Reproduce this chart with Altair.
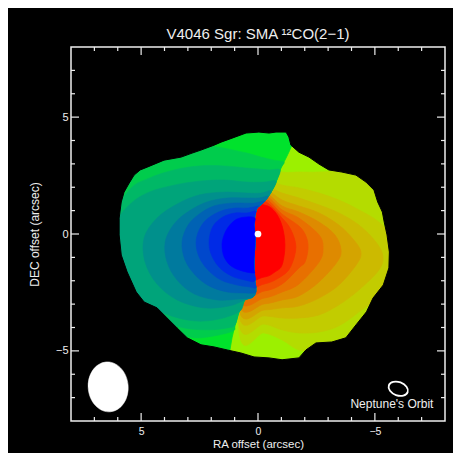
import altair as alt
import pandas as pd

# ---------------- data (arcsec offsets) ----------------
TICK_LABELS = [5, 0, -5]
MINOR_TICKS = [7, 6, 4, 3, 2, 1, -1, -2, -3, -4, -6, -7]

# outer edge of the emission (clockwise on screen)
DISK_X = [5.51, 5.30, 5.04, 4.74, 4.02, 3.29, 2.82, 2.44, 1.88, 1.58, 1.11, 0.51, -0.04, -0.47, -0.77,
          -1.20, -1.32, -1.41, -1.75, -2.18, -2.61, -3.03, -3.59, -4.19, -4.62, -4.96, -5.12, -5.32,
          -5.40, -5.52, -5.62, -5.60, -5.36, -4.92, -4.64, -4.19, -3.76, -3.16, -2.48, -2.05, -1.75,
          -1.03, -0.47, 0.17, 0.73, 1.32, 1.88, 2.44, 3.03, 3.46, 3.89, 4.32, 4.87, 5.21, 5.60, 5.85,
          5.94, 5.94, 5.85, 5.73]
DISK_Y = [2.18, 2.52, 2.74, 2.86, 3.16, 3.29, 3.46, 3.59, 3.80, 3.93, 4.10, 4.32, 4.36, 4.32, 4.36,
          4.36, 4.15, 3.80, 3.50, 3.29, 2.99, 2.74, 2.65, 2.52, 2.22, 1.88, 1.37, 0.94,
          0.51, -0.04, -0.77, -1.45, -2.18, -2.74, -3.33, -3.89, -4.44, -4.62, -4.66, -4.96, -5.30,
          -5.38, -5.30, -5.26, -5.09, -4.96, -4.83, -4.74, -4.44, -4.02, -3.59, -3.16, -2.91, -2.48, -1.62, -0.90,
          -0.04, 0.68, 1.37, 1.79]

# boundary between blue-shifted and red-shifted halves (top -> bottom)
SPLIT_X = [-1.58, -1.45, -1.32, -1.20, -0.98, -0.77, -0.56, -0.26, 0.04, 0.13, 0.17, 0.13,
           0.13, 0.17, 0.17, 0.13, 0.09, 0.21, 0.56, 0.81, 0.98, 1.11, 1.20, 1.28]
SPLIT_Y = [4.66, 3.80, 3.50, 3.25, 2.82, 2.22, 1.79, 1.37, 1.11, 0.81, 0.38, 0.00,
           -0.47, -1.03, -1.54, -2.05, -2.39, -2.69, -2.82, -3.33, -3.89, -4.44, -4.96, -5.60]

# red-shifted velocity lobes, outer -> inner
R1_X = [0.81, -0.26, -1.03, -1.75, -2.61, -3.46, -4.32, -6.03, -6.88, -6.03, -5.17, -4.32, -3.46, -2.61, -1.75, -1.03, -0.26, 0.81]
R1_Y = [3.16, 2.95, 2.65, 2.65, 2.65, 2.74, 3.16, 3.16, -0.26, -4.10, -4.74, -4.74, -4.96, -5.04, -4.96, -4.53, -4.23, -4.23]
R2_X = [0.81, -0.26, -1.03, -1.75, -2.61, -3.46, -4.32, -5.17, -5.81, -5.85, -5.17, -4.32, -3.46, -2.61, -1.75, -1.03, -0.26, 0.81]
R2_Y = [2.31, 2.31, 2.09, 1.97, 1.75, 1.45, 1.03, 0.51, -0.26, -1.11, -2.61, -3.33, -3.93, -4.19, -4.23, -4.10, -3.85, -3.85]
R3_X = [0.81, -0.26, -1.03, -1.75, -2.61, -3.46, -4.32, -5.04, -5.34, -5.17, -4.32, -3.46, -2.61, -1.75, -1.03, -0.26, 0.81]
R3_Y = [2.05, 2.05, 1.75, 1.54, 1.24, 0.90, 0.38, -0.34, -0.94, -1.54, -2.39, -3.03, -3.46, -3.59, -3.59, -3.50, -3.50]
R4_X = [0.81, -0.26, -1.03, -1.75, -2.61, -3.46, -4.10, -4.40, -4.23, -3.46, -2.61, -1.75, -1.03, -0.26, 0.81]
R4_Y = [1.92, 1.92, 1.45, 1.20, 0.90, 0.38, -0.26, -0.77, -1.28, -2.18, -2.74, -3.08, -3.16, -3.25, -3.25]
R5_X = [0.81, -0.26, -1.03, -1.75, -2.61, -3.29, -3.55, -3.38, -2.61, -1.75, -1.03, -0.26, 0.81]
R5_Y = [1.79, 1.79, 1.20, 0.94, 0.51, -0.04, -0.68, -1.20, -2.05, -2.65, -2.82, -2.99, -2.99]
R6_X = [0.81, -0.26, -1.03, -1.75, -2.61, -2.78, -2.61, -1.75, -1.03, -0.26, 0.81]
R6_Y = [1.67, 1.67, 1.03, 0.68, -0.04, -0.60, -1.20, -2.14, -2.48, -2.74, -2.74]
R7_X = [0.81, -0.26, -1.03, -1.75, -2.05, -2.14, -2.01, -1.75, -1.03, -0.26, 0.81]
R7_Y = [1.54, 1.54, 0.85, 0.34, -0.09, -0.60, -1.20, -1.45, -2.14, -2.44, -2.44]
R8_X = [0.81, -0.26, -1.03, -1.41, -1.62, -1.41, -1.03, -0.26, 0.81]
R8_Y = [1.41, 1.41, 0.68, 0.17, -0.56, -1.37, -1.79, -2.14, -2.14]
R9_X = [0.81, -0.26, -0.73, -1.03, -1.15, -1.03, -0.73, -0.26, 0.81]
R9_Y = [1.24, 1.24, 0.94, 0.34, -0.47, -1.32, -1.62, -1.84, -1.84]

# blue-shifted velocity lobes (outer arc), outer -> inner; closed along the split line
L1_X = [-1.11, -0.68, -0.13, 0.47, 1.24, 2.09, 2.95, 4.02, 5.09, 6.37, 6.79, 6.37, 5.09, 3.80, 2.74, 1.88, 1.07]
L1_Y = [3.08, 3.16, 3.29, 3.46, 3.63, 3.76, 3.68, 3.50, 3.16, 1.88, -0.26, -2.39, -3.68, -4.19, -4.44, -4.36, -4.15]
L2_X = [-0.94, -0.47, -0.04, 0.47, 1.45, 2.52, 3.59, 4.66, 5.51, 6.37, 6.45, 5.30, 4.23, 3.16, 2.09, 1.32, 0.98]
L2_Y = [2.74, 2.74, 2.78, 2.82, 2.91, 2.91, 2.74, 2.39, 1.88, 0.38, -1.75, -3.03, -3.68, -4.02, -4.10, -4.02, -3.89]
L3_X = [-0.77, -0.26, 0.47, 1.45, 2.52, 3.59, 4.66, 5.51, 6.29, 6.37, 5.43, 4.32, 3.03, 1.88, 0.81]
L3_Y = [2.26, 2.22, 2.22, 2.31, 2.26, 2.09, 1.79, 1.24, 0.17, -1.20, -2.48, -3.25, -3.68, -3.68, -3.33]
L4_X = [-0.56, -0.13, 0.47, 1.45, 2.52, 3.46, 4.32, 4.87, 4.83, 4.32, 3.46, 2.31, 1.24, 0.56]
L4_Y = [1.84, 1.75, 1.75, 1.79, 1.67, 1.28, 0.68, -0.17, -1.20, -2.14, -2.82, -3.16, -3.08, -2.82]
L5_X = [-0.43, -0.04, 0.47, 1.32, 2.18, 2.95, 3.59, 3.97, 3.89, 3.46, 2.74, 1.75, 0.81, 0.21]
L5_Y = [1.62, 1.54, 1.54, 1.54, 1.37, 0.98, 0.43, -0.34, -1.20, -1.97, -2.56, -2.82, -2.78, -2.69]
L6_X = [-0.30, 0.17, 0.47, 1.15, 1.88, 2.52, 2.99, 3.25, 3.12, 2.69, 2.09, 1.32, 0.60, 0.13]
L6_Y = [1.41, 1.32, 1.32, 1.32, 1.20, 0.85, 0.38, -0.34, -1.11, -1.75, -2.22, -2.48, -2.52, -2.52]
L7_X = [-0.04, 0.47, 0.98, 1.58, 2.18, 2.52, 2.65, 2.52, 2.14, 1.58, 0.90, 0.38, 0.09]
L7_Y = [1.20, 1.11, 1.11, 0.98, 0.64, 0.17, -0.38, -0.98, -1.54, -1.97, -2.18, -2.26, -2.31]
L8_X = [0.09, 0.47, 0.98, 1.50, 1.92, 2.09, 2.01, 1.67, 1.15, 0.56, 0.13]
L8_Y = [0.98, 0.90, 0.90, 0.73, 0.34, -0.26, -0.85, -1.41, -1.79, -1.97, -2.01]
L9_X = [0.13, 0.47, 0.90, 1.24, 1.45, 1.54, 1.45, 1.15, 0.68, 0.17]
L9_Y = [0.68, 0.73, 0.64, 0.34, -0.04, -0.47, -0.98, -1.37, -1.58, -1.67]
# split-line index range (top, bottom) that closes each blue lobe
L_SPLIT = [(4, 20), (5, 19), (6, 18), (7, 17), (7, 16), (8, 16), (8, 15), (9, 14), (10, 14)]

STAR_X, STAR_Y = [0.0], [0.0]
BEAM_X, BEAM_Y = [6.41], [-6.54]
ORBIT_X, ORBIT_Y = [-6.0], [-6.62]
NOTE_X, NOTE_Y, NOTE_TEXT = [-5.73], [-7.26], ["Neptune's Orbit"]

BOX = 7.0     # extent of the fill layers (inside the frame)
MASK = 7.8

# ---------------- styles ----------------
LEFT_COLORS = ["#00E22C", "#00CC4C", "#00B866", "#00A47A", "#00908C",
               "#007A9E", "#0062B4", "#0048CC", "#002AE6", "#0000FF"]
RIGHT_COLORS = ["#9CF000", "#B4DC00", "#C2CC00", "#CCBA00", "#D4A400",
                "#DE8A00", "#E87000", "#F05200", "#F83200", "#FF0000"]
FG = "#eeeeee"
FONT = "Liberation Sans"
W = H = 374

xscale = alt.Scale(domain=[-8, 8], reverse=True, nice=False, zero=False)
yscale = alt.Scale(domain=[-8, 8], nice=False, zero=False)
x_axis = alt.Axis(values=TICK_LABELS, format="d", ticks=False, domain=False, grid=False,
                  labelPadding=5, labelFontSize=10.5, labelColor=FG, labelFont=FONT,
                  title="RA offset (arcsec)", titleFontSize=11.5, titleFont=FONT, titleColor=FG,
                  titleFontWeight="normal", titlePadding=2)
y_axis = alt.Axis(values=TICK_LABELS, format="d", ticks=False, domain=False, grid=False,
                  labelPadding=3, labelFontSize=11, labelColor=FG, labelFont=FONT,
                  title="DEC offset (arcsec)", titleFontSize=12, titleFont=FONT, titleColor=FG,
                  titleFontWeight="normal", titlePadding=14)


def X(f):
    return alt.X(f, type="quantitative", scale=xscale, axis=x_axis)


def Y(f):
    return alt.Y(f, type="quantitative", scale=yscale, axis=y_axis)


def polygon(xs, ys, color, interp="cardinal-closed", sw=0.8):
    df = pd.DataFrame({"x": xs, "y": ys, "i": list(range(len(xs)))})
    return alt.Chart(df).mark_line(interpolate=interp, fill=color, stroke=color,
                                   strokeWidth=sw, clip=True).encode(
        x=X("x"), y=Y("y"), order=alt.Order("i:Q"))


layers = []
# red half: base + lobes
layers.append(polygon([BOX, -BOX, -BOX, BOX], [BOX, BOX, -BOX, -BOX], RIGHT_COLORS[0], "linear-closed"))
for k, (xs, ys) in enumerate([(R1_X, R1_Y), (R2_X, R2_Y), (R3_X, R3_Y), (R4_X, R4_Y), (R5_X, R5_Y),
                              (R6_X, R6_Y), (R7_X, R7_Y), (R8_X, R8_Y), (R9_X, R9_Y)]):
    layers.append(polygon(xs, ys, RIGHT_COLORS[k + 1]))
# blue half: base bounded by the split line
lb_x = SPLIT_X + [SPLIT_X[-1], BOX, BOX, SPLIT_X[0]]
lb_y = SPLIT_Y + [-BOX, -BOX, BOX, BOX]
layers.append(polygon(lb_x, lb_y, LEFT_COLORS[0], "linear-closed"))
for k, (xs, ys) in enumerate([(L1_X, L1_Y), (L2_X, L2_Y), (L3_X, L3_Y), (L4_X, L4_Y), (L5_X, L5_Y),
                              (L6_X, L6_Y), (L7_X, L7_Y), (L8_X, L8_Y), (L9_X, L9_Y)]):
    top, bot = L_SPLIT[k]
    idx = list(range(bot, top - 1, -1))
    px = list(xs) + [SPLIT_X[j] for j in idx]
    py = list(ys) + [SPLIT_Y[j] for j in idx]
    layers.append(polygon(px, py, LEFT_COLORS[k + 1], "cardinal-closed", 0.6))

# black mask outside the emission (box with the disk as a hole)
n = len(DISK_X)
rev = [0] + list(range(n - 1, -1, -1))
mask_x = [MASK, -MASK, -MASK, MASK, MASK] + [DISK_X[j] for j in rev]
mask_y = [MASK, MASK, -MASK, -MASK, MASK] + [DISK_Y[j] for j in rev]
mdf = pd.DataFrame({"x": mask_x, "y": mask_y, "i": list(range(len(mask_x)))})
layers.append(alt.Chart(mdf).mark_line(interpolate="linear-closed", fill="black", stroke="black",
                                       strokeWidth=1, clip=True).encode(
    x=X("x"), y=Y("y"), order=alt.Order("i:Q")))

# star
layers.append(alt.Chart(pd.DataFrame({"x": STAR_X, "y": STAR_Y})).mark_point(
    shape="circle", filled=True, color="white", size=45, opacity=1).encode(x=X("x"), y=Y("y")))

ELLIPSE_BEAM = ("M0,-1 C0.442,-1 0.8,-0.552 0.8,0 C0.8,0.552 0.442,1 0,1 "
                "C-0.442,1 -0.8,0.552 -0.8,0 C-0.8,-0.552 -0.442,-1 0,-1 Z")
ELLIPSE_ORBIT = ("M0,-0.67 C0.552,-0.67 1,-0.37 1,0 C1,0.37 0.552,0.67 0,0.67 "
                 "C-0.552,0.67 -1,0.37 -1,0 C-1,-0.37 -0.552,-0.67 0,-0.67 Z")
layers.append(alt.Chart(pd.DataFrame({"x": BEAM_X, "y": BEAM_Y})).mark_point(
    shape=ELLIPSE_BEAM, filled=True, fill="white", stroke="white", strokeWidth=0.5,
    size=2500, angle=355, opacity=1).encode(x=X("x"), y=Y("y")))
layers.append(alt.Chart(pd.DataFrame({"x": ORBIT_X, "y": ORBIT_Y})).mark_point(
    shape=ELLIPSE_ORBIT, filled=False, stroke="white", strokeWidth=1.8, fillOpacity=0,
    size=400, angle=20, opacity=1).encode(x=X("x"), y=Y("y")))
layers.append(alt.Chart(pd.DataFrame({"x": NOTE_X, "y": NOTE_Y, "t": NOTE_TEXT})).mark_text(
    color=FG, font=FONT, fontSize=12, align="center", baseline="middle").encode(
    x=X("x"), y=Y("y"), text="t:N"))

# inward-pointing ticks on all four sides
for vals, L in ((TICK_LABELS, 8), (MINOR_TICKS, 4)):
    tdf = pd.DataFrame({"t": vals})
    base = alt.Chart(tdf).mark_rule(color=FG, strokeWidth=1.2)
    layers.append(base.encode(x=X("t"), y=alt.value(H), y2=alt.value(H - L)))
    layers.append(base.encode(x=X("t"), y=alt.value(0), y2=alt.value(L)))
    layers.append(base.encode(y=Y("t"), x=alt.value(0), x2=alt.value(L)))
    layers.append(base.encode(y=Y("t"), x=alt.value(W), x2=alt.value(W - L)))

chart = alt.layer(*layers).properties(
    width=W, height=H,
    title=alt.TitleParams(text="V4046 Sgr: SMA ¹²CO(2−1)", color=FG, font=FONT, fontSize=15,
                          fontWeight="normal", anchor="middle", offset=4),
    padding={"left": 63, "top": 39, "right": 8, "bottom": 32},
    autosize=alt.AutoSizeParams(type="none"),
).configure(background="black").configure_view(stroke=FG, strokeWidth=1.5)

chart.save("out.html", embed_options={"renderer": "svg", "actions": False})
